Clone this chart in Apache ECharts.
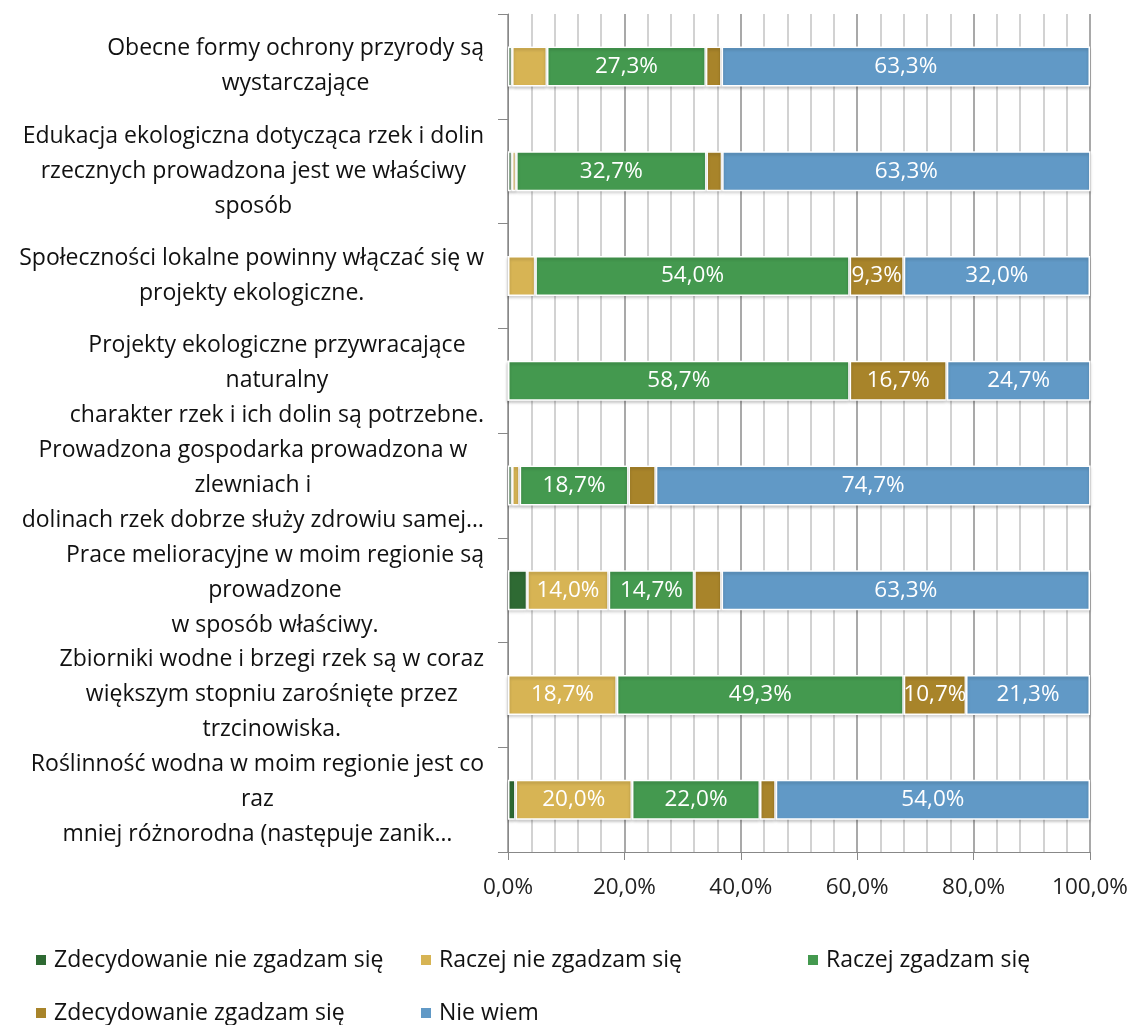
<!DOCTYPE html>
<html>
<head>
<meta charset="utf-8">
<script src="https://cdn.jsdelivr.net/npm/echarts@6/dist/echarts.min.js"></script>
<style>
  html, body { margin: 0; padding: 0; background: #fff; }
  #chart { width: 1134px; height: 1025px; }
</style>
</head>
<body>
<div id="chart"></div>
<script>
// 分类（从上到下）
const categories = [
  'Obecne formy ochrony przyrody są\nwystarczające',
  'Edukacja ekologiczna dotycząca rzek i dolin\nrzecznych prowadzona jest we właściwy\nsposób',
  'Społeczności lokalne powinny włączać się w\nprojekty ekologiczne.',
  'Projekty ekologiczne przywracające\nnaturalny\ncharakter rzek i ich dolin są potrzebne.',
  'Prowadzona gospodarka prowadzona w\nzlewniach i\ndolinach rzek dobrze służy zdrowiu samej…',
  'Prace melioracyjne w moim regionie są\nprowadzone\nw sposób właściwy.',
  'Zbiorniki wodne i brzegi rzek są w coraz\nwiększym stopniu zarośnięte przez\ntrzcinowiska.',
  'Roślinność wodna w moim regionie jest co\nraz\nmniej różnorodna (następuje zanik…'
];

// 系列名称
const seriesNames = [
  'Zdecydowanie nie zgadzam się',
  'Raczej nie zgadzam się',
  'Raczej zgadzam się',
  'Zdecydowanie zgadzam się',
  'Nie wiem'
];

// 各系列数值（%）
const stronglyDisagree = [0.7, 0.7, 0, 0, 0.7, 3.3, 0, 1.3];
const ratherDisagree = [6.0, 0.7, 4.7, 0, 1.3, 14.0, 18.7, 20.0];
const ratherAgree = [27.3, 32.7, 54.0, 58.7, 18.7, 14.7, 49.3, 22.0];
const stronglyAgree = [2.7, 2.7, 9.3, 16.7, 4.7, 4.7, 10.7, 2.7];
const dontKnow = [63.3, 63.3, 32.0, 24.7, 74.7, 63.3, 21.3, 54.0];

const seriesValues = [stronglyDisagree, ratherDisagree, ratherAgree, stronglyAgree, dontKnow];

// 颜色配置
const colors = ['#2e6a33', '#d7b454', '#44994f', '#a8842a', '#6199c6'];

const fontFamily = '"Open Sans", Lato, sans-serif';

// 百分比格式（逗号小数点）
const fmtPct = v => v.toFixed(1).replace('.', ',') + '%';

const chart = echarts.init(document.getElementById('chart'));

const series = seriesNames.map((name, i) => ({
  name,
  type: 'bar',
  stack: 'total',
  barWidth: 40,
  data: seriesValues[i],
  itemStyle: {
    color: colors[i],
    borderColor: '#fff',
    borderWidth: 1.5,
    shadowColor: 'rgba(0,0,0,0.2)',
    shadowBlur: 3,
    shadowOffsetY: 2
  },
  label: {
    show: true,
    position: 'inside',
    color: '#fff',
    fontSize: 22.5,
    fontFamily,
    formatter: p => (p.value >= 8 ? fmtPct(p.value) : '')
  }
}));

// 图例位置（每项单独摆放，模仿两行网格）
const legendPos = [[34, 947], [419, 947], [806, 947], [34, 1000], [419, 1000]];

const legends = seriesNames.map((name, i) => ({
  data: [name],
  left: legendPos[i][0],
  top: legendPos[i][1],
  padding: 0,
  icon: 'rect',
  itemWidth: 12,
  itemHeight: 12,
  textStyle: { fontSize: 23, lineHeight: 26, fontFamily, color: '#111', padding: [0, 0, 0, 2] }
}));

chart.setOption({
  animation: false,
  color: colors,
  grid: { left: 508, right: 44, top: 14, bottom: 173 },
  legend: legends,
  xAxis: {
    type: 'value',
    min: 0,
    max: 100,
    interval: 20,
    axisLine: { show: true, lineStyle: { color: '#888' } },
    axisTick: { show: true, length: 8, lineStyle: { color: '#888' } },
    axisLabel: {
      fontSize: 22.5,
      fontFamily,
      color: '#222',
      margin: 24,
      formatter: v => fmtPct(v)
    },
    splitLine: { show: true, lineStyle: { color: '#8c8c8c', width: 1.5 } },
    minorTick: { show: false, splitNumber: 5 },
    minorSplitLine: { show: true, lineStyle: { color: '#c4c4c4', width: 1.5 } }
  },
  yAxis: {
    type: 'category',
    inverse: true,
    data: categories,
    axisLine: { show: true, lineStyle: { color: '#888' } },
    axisTick: { show: true, length: 10, lineStyle: { color: '#888' } },
    axisLabel: {
      margin: 24,
      align: 'right',
      formatter: v => v.split('\n').map(l => '{c|' + l + '}').join('\n'),
      rich: {
        c: { align: 'center', fontSize: 23, lineHeight: 35, fontFamily, color: '#111' }
      }
    }
  },
  series
});

// 窗口大小变化时重新调整图表
window.addEventListener('resize', () => chart.resize());
</script>
</body>
</html>
